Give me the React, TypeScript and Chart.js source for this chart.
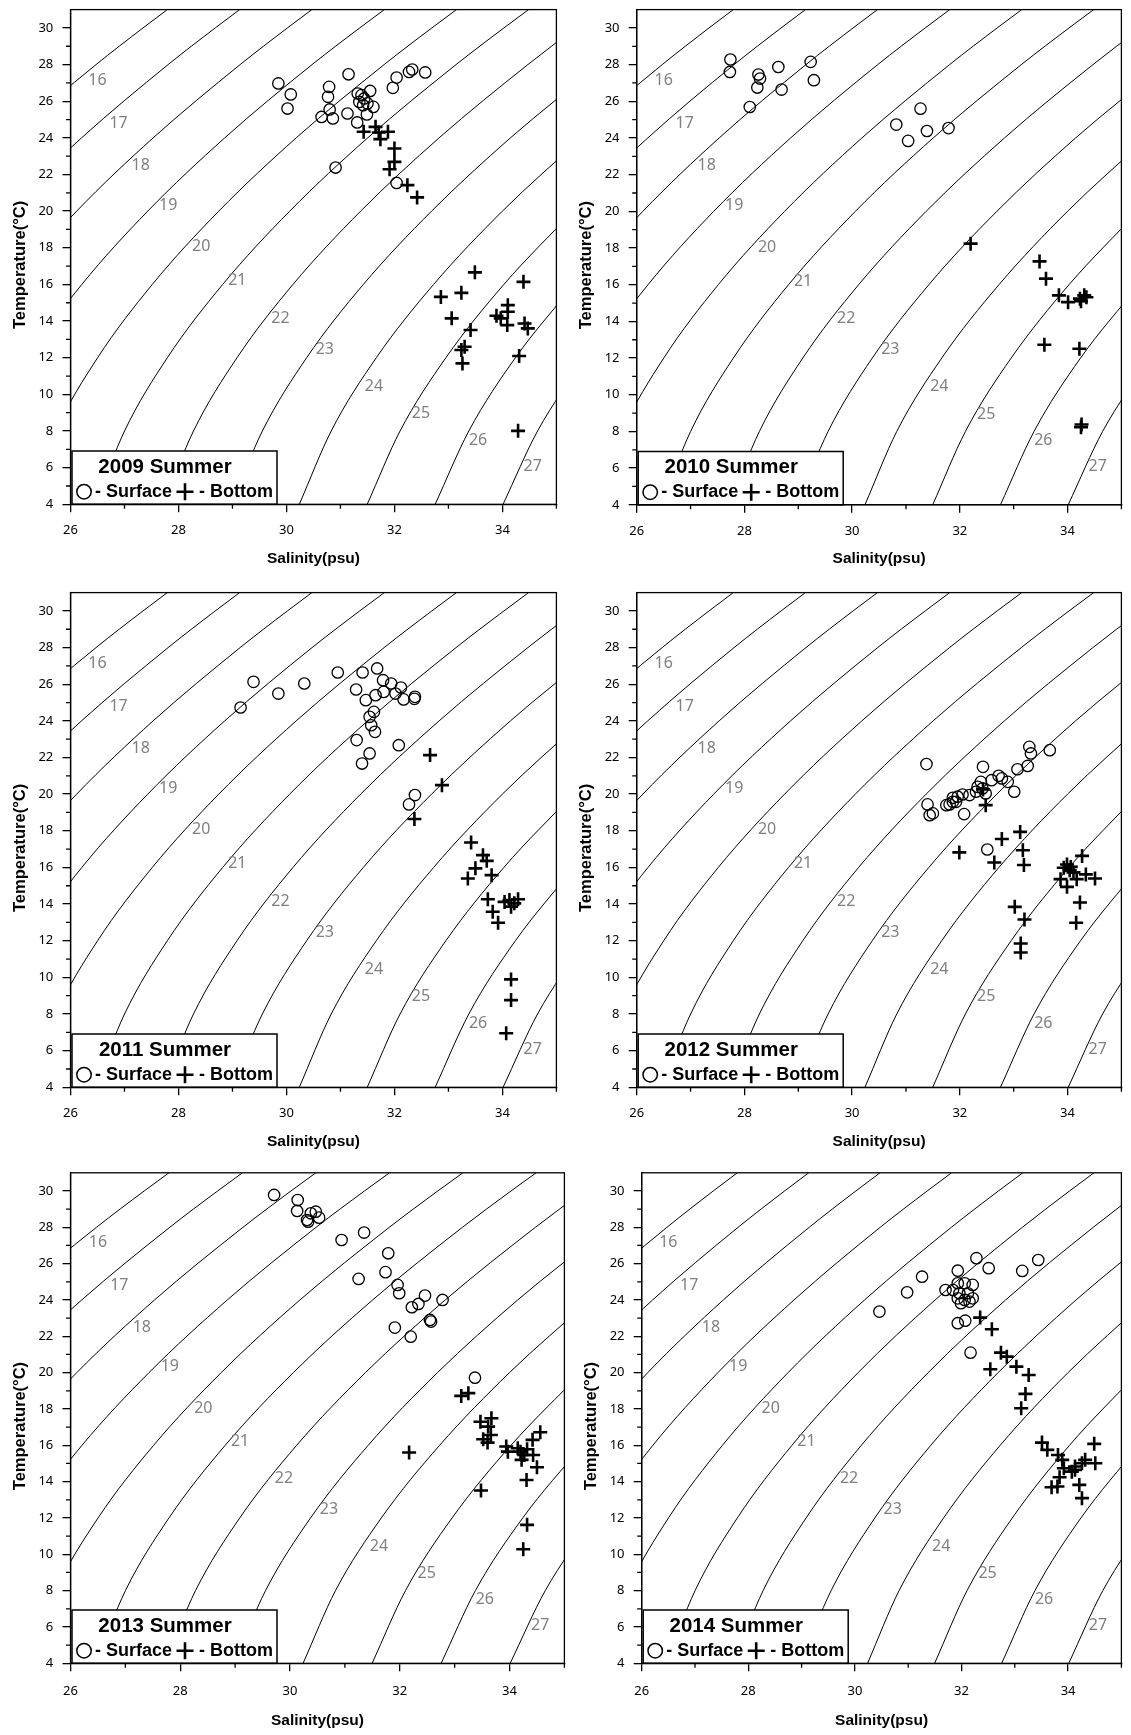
import React, { useEffect, useRef } from "react";
import { Chart, registerables } from "chart.js";
Chart.register(...registerables);

// ---------- axis ticks ----------
const X_TICKS = [26, 28, 30, 32, 34];
const X_MINOR = [27, 29, 31, 33, 35];
const Y_TICKS = [4, 6, 8, 10, 12, 14, 16, 18, 20, 22, 24, 26, 28, 30];
const Y_MINOR = [5, 7, 9, 11, 13, 15, 17, 19, 21, 23, 25, 27, 29];

// ---------- density (sigma-t) isolines: salinity read at these temperatures ----------
const ISO_TEMPS = [4, 8, 12, 16, 20, 24, 28, 30, 31];
const ISO_16 = [null, null, null, 22.29, 23.48, 24.877, 26.474, 27.343, 27.794];
const ISO_17 = [null, null, 22.61, 23.598, 24.797, 26.205, 27.809, 28.681, 29.133];
const ISO_18 = [null, 23.163, 23.918, 24.903, 26.114, 27.531, 29.143, 30.018, 30.471];
const ISO_19 = [23.93, 24.445, 25.21, 26.21, 27.43, 28.857, 30.475, 31.357, 31.813];
const ISO_20 = [25.193, 25.724, 26.502, 27.515, 28.746, 30.181, 31.81, 32.693, 33.15];
const ISO_21 = [26.455, 27.001, 27.794, 28.819, 30.06, 31.505, 33.142, 34.028, 34.485];
const ISO_22 = [27.717, 28.278, 29.084, 30.121, 31.374, 32.828, 34.472, 35.36, 35.82];
const ISO_23 = [28.978, 29.554, 30.374, 31.424, 32.687, 34.149, 35.8, null, null];
const ISO_24 = [30.238, 30.829, 31.664, 32.726, 33.999, 35.469, null, null, null];
const ISO_25 = [31.496, 32.104, 32.953, 34.027, 35.31, null, null, null, null];
const ISO_26 = [32.754, 33.378, 34.241, 35.327, null, null, null, null, null];
const ISO_27 = [34.012, 34.651, 35.528, null, null, null, null, null, null];
const ISOLINES = [ISO_16, ISO_17, ISO_18, ISO_19, ISO_20, ISO_21, ISO_22, ISO_23, ISO_24, ISO_25, ISO_26, ISO_27];

// isoline labels: text, salinity, temperature
const ISO_LABEL_TEXT = ["16", "17", "18", "19", "20", "21", "22", "23", "24", "25", "26", "27"];
const ISO_LABEL_S = [26.5, 26.89, 27.3, 27.81, 28.42, 29.09, 29.89, 30.71, 31.62, 32.49, 33.55, 34.56];
const ISO_LABEL_T = [27.15, 24.78, 22.5, 20.33, 18.05, 16.2, 14.15, 12.45, 10.43, 8.94, 7.5, 6.09];

// ---------- observations [salinity, temperature] ----------
const SURFACE_2009 = [
  [29.85, 26.97], [30.08, 26.37], [30.02, 25.6], [30.79, 26.78], [30.77, 26.24], [31.15, 27.47],
  [30.8, 25.55], [30.65, 25.14], [30.86, 25.06], [31.13, 25.33], [31.31, 24.84], [31.32, 26.42],
  [31.55, 26.56], [31.35, 25.96], [31.44, 26.15], [31.42, 25.78], [31.5, 25.88], [31.39, 26.33],
  [31.61, 25.69], [31.49, 25.28], [32.04, 27.29], [31.97, 26.73], [32.27, 27.6], [32.33, 27.73],
  [32.57, 27.57], [30.91, 22.38], [32.04, 21.54],
];
const BOTTOM_2009 = [
  [31.43, 24.33], [31.65, 24.6], [31.71, 24.29], [31.74, 23.93], [31.88, 24.33], [32.0, 23.42],
  [32.0, 22.69], [31.91, 22.29], [32.24, 21.42], [32.42, 20.75], [33.49, 16.66], [32.86, 15.32],
  [33.24, 15.54], [33.06, 14.15], [33.41, 13.51], [33.3, 12.6], [33.24, 12.42], [33.26, 11.69],
  [34.39, 16.14], [34.1, 14.87], [34.1, 14.51], [33.89, 14.29], [33.97, 14.15], [34.09, 13.78],
  [34.41, 13.87], [34.47, 13.6], [34.31, 12.09], [34.29, 8.01],
];
const SURFACE_2010 = [
  [27.74, 28.28], [27.73, 27.6], [28.26, 27.46], [28.29, 27.24], [28.24, 26.75], [28.1, 25.69],
  [28.63, 27.87], [28.69, 26.64], [29.23, 28.15], [29.29, 27.15], [31.27, 25.6], [30.82, 24.73],
  [31.39, 24.38], [31.04, 23.84], [31.79, 24.54],
];
const BOTTOM_2010 = [
  [32.2, 18.24], [33.48, 17.27], [33.6, 16.33], [33.84, 15.42], [34.01, 15.05], [34.23, 15.24],
  [34.31, 15.42], [34.35, 15.32], [34.25, 15.1], [33.57, 12.73], [34.22, 12.51], [34.26, 8.38],
  [34.25, 8.23],
];
const SURFACE_2011 = [
  [29.15, 24.73], [29.39, 26.13], [29.85, 25.49], [30.33, 26.04], [30.95, 26.64], [31.41, 26.64],
  [31.68, 26.86], [31.29, 25.71], [31.47, 25.13], [31.65, 25.4], [31.79, 26.22], [31.94, 26.04],
  [31.8, 25.58], [32.02, 25.49], [32.12, 25.82], [32.17, 25.17], [32.38, 25.31], [32.37, 25.2],
  [31.62, 24.49], [31.54, 24.22], [31.57, 23.76], [31.64, 23.4], [31.3, 22.95], [31.54, 22.22],
  [31.4, 21.67], [32.08, 22.67], [32.38, 19.95], [32.27, 19.44],
];
const BOTTOM_2011 = [
  [32.66, 22.13], [32.88, 20.49], [32.37, 18.64], [33.42, 17.36], [33.64, 16.67], [33.71, 16.36],
  [33.5, 15.95], [33.8, 15.58], [33.36, 15.4], [33.73, 14.26], [33.82, 13.58], [33.92, 12.98],
  [34.04, 14.12], [34.13, 14.22], [34.22, 14.04], [34.29, 14.26], [34.16, 13.86], [34.16, 9.89],
  [34.16, 8.76], [34.07, 6.95],
];
const SURFACE_2012 = [
  [31.38, 21.64], [32.43, 21.49], [33.29, 22.58], [33.32, 22.22], [33.67, 22.4], [33.26, 21.54],
  [33.07, 21.36], [32.72, 21.0], [32.78, 20.86], [32.59, 20.76], [32.89, 20.67], [33.01, 20.13],
  [32.42, 20.31], [32.48, 20.04], [32.3, 20.13], [32.05, 19.98], [31.87, 19.8], [31.81, 19.44],
  [31.4, 19.44], [31.44, 18.85], [31.5, 18.95], [32.08, 18.91], [31.93, 19.58], [32.51, 16.98],
  [31.75, 19.4], [31.87, 19.58], [31.96, 19.86], [32.18, 19.95], [32.33, 20.4], [32.39, 20.67],
];
const BOTTOM_2012 = [
  [32.48, 19.4], [32.43, 20.26], [31.99, 16.82], [32.78, 17.55], [32.64, 16.27], [33.12, 17.94],
  [33.17, 16.94], [33.19, 16.13], [33.02, 13.85], [33.2, 13.16], [33.13, 11.85], [33.13, 11.36],
  [34.27, 16.63], [33.99, 16.16], [34.06, 16.03], [34.04, 15.85], [33.93, 15.98], [34.11, 15.73],
  [34.34, 15.62], [34.51, 15.4], [33.87, 15.36], [34.17, 15.36], [33.99, 14.94], [34.23, 14.09],
  [34.16, 12.98],
];
const SURFACE_2013 = [
  [29.71, 29.78], [30.14, 29.5], [30.13, 28.9], [30.38, 28.77], [30.47, 28.86], [30.53, 28.53],
  [30.33, 28.31], [30.31, 28.4], [30.94, 27.3], [31.35, 27.71], [31.79, 26.57], [31.74, 25.53],
  [31.25, 25.16], [31.96, 24.83], [31.99, 24.37], [32.46, 24.24], [32.34, 23.78], [32.22, 23.6],
  [32.78, 24.0], [32.55, 22.9], [32.57, 22.81], [31.91, 22.48], [32.2, 21.98], [33.37, 19.72],
];
const BOTTOM_2013 = [
  [33.12, 18.72], [33.25, 18.87], [32.17, 15.6], [33.47, 17.3], [33.67, 17.49], [33.61, 17.03],
  [33.66, 16.57], [33.52, 16.33], [33.6, 16.15], [33.94, 15.93], [33.97, 15.65], [34.15, 15.84],
  [34.2, 15.65], [34.27, 15.47], [34.32, 15.78], [34.43, 15.47], [34.22, 15.2], [34.42, 16.3],
  [34.56, 16.72], [34.5, 14.79], [34.31, 14.09], [33.48, 13.51], [34.32, 11.62], [34.25, 10.28],
];
const SURFACE_2014 = [
  [30.46, 23.36], [30.98, 24.42], [31.26, 25.28], [31.93, 25.61], [32.28, 26.3], [32.51, 25.75],
  [33.14, 25.6], [33.44, 26.2], [31.7, 24.55], [31.93, 24.92], [32.06, 24.92], [32.21, 24.83],
  [31.84, 24.55], [31.96, 24.37], [32.12, 24.37], [32.21, 24.09], [31.93, 24.09], [32.06, 24.0],
  [31.99, 23.82], [32.15, 23.91], [31.93, 22.72], [32.07, 22.86], [32.17, 21.1],
];
const BOTTOM_2014 = [
  [32.35, 23.03], [32.57, 22.39], [32.54, 20.19], [32.74, 21.1], [32.85, 20.88], [33.03, 20.33],
  [33.26, 19.87], [33.2, 18.83], [33.12, 18.04], [33.51, 16.15], [33.61, 15.75], [33.81, 15.47],
  [33.89, 15.2], [34.13, 14.83], [34.26, 15.01], [34.32, 15.2], [34.49, 16.08], [34.51, 15.01],
  [33.92, 14.74], [33.84, 14.24], [33.8, 13.73], [33.69, 13.69], [34.13, 14.65], [34.21, 13.82],
  [34.26, 13.09], [34.07, 14.55],
];

const TITLES = ["2009 Summer", "2010 Summer", "2011 Summer", "2012 Summer", "2013 Summer", "2014 Summer"];
const SURFACES = [SURFACE_2009, SURFACE_2010, SURFACE_2011, SURFACE_2012, SURFACE_2013, SURFACE_2014];
const BOTTOMS = [BOTTOM_2009, BOTTOM_2010, BOTTOM_2011, BOTTOM_2012, BOTTOM_2013, BOTTOM_2014];

// ---------- layout (page pixels) ----------
const LAYOUT = [
  { left: 0, top: 0, w: 566, h: 580, L: 70.5, R: 565.7, T: 9.4, B: 504.3, titleGap: 54, tickGap: 26.4 },
  { left: 566, top: 0, w: 565, h: 580, L: 636.7, R: 1130.5, T: 9.4, B: 504.8, titleGap: 54, tickGap: 26.4 },
  { left: 0, top: 583, w: 566, h: 580, L: 70.5, R: 565.7, T: 592.4, B: 1087.3, titleGap: 54, tickGap: 26.4 },
  { left: 566, top: 583, w: 565, h: 580, L: 636.7, R: 1130.5, T: 592.4, B: 1087.3, titleGap: 54, tickGap: 26.4 },
  { left: 0, top: 1163, w: 574, h: 572, L: 70.5, R: 572.7, T: 1172.8, B: 1663.3, titleGap: 57.7, tickGap: 28.4 },
  { left: 571, top: 1163, w: 560, h: 572, L: 641.7, R: 1130.5, T: 1172.8, B: 1663.3, titleGap: 57.7, tickGap: 28.4 },
];

const YW = 59.5;
const TICK_FONT = { family: "'Noto Sans', 'DejaVu Sans', sans-serif", size: 13 };
const TITLE_FONT = { family: "'Liberation Sans', Arial, sans-serif", size: 15.5, weight: "bold" as const };

const decorPlugin = (title: string) => ({
  id: "decor",
  afterDatasetsDraw(chart: any) {
    const { ctx, chartArea: a, scales } = chart;
    const xs = scales.x;
    const ys = scales.y;
    ctx.save();
    // isoline labels
    ctx.font = "16px 'Noto Sans', 'DejaVu Sans', sans-serif";
    ctx.fillStyle = "#808080";
    ctx.textAlign = "center";
    ctx.textBaseline = "middle";
    ISO_LABEL_TEXT.forEach((t, i) => {
      ctx.fillText(t, xs.getPixelForValue(ISO_LABEL_S[i]), ys.getPixelForValue(ISO_LABEL_T[i]));
    });
    // legend box
    const L = a.left;
    const B = a.bottom;
    const bx = L + 1.5;
    const by = B - 53.3;
    const bw = 205;
    ctx.fillStyle = "#fff";
    ctx.fillRect(bx, by, bw, B - by);
    ctx.strokeStyle = "#000";
    ctx.lineWidth = 1.5;
    ctx.strokeRect(bx, by, bw, B - by);
    ctx.fillStyle = "#000";
    ctx.font = "bold 20.5px 'Liberation Sans', Arial, sans-serif";
    ctx.textAlign = "center";
    ctx.textBaseline = "middle";
    ctx.fillText(title, L + 94.5, B - 37);
    const ly = B - 12.6;
    ctx.beginPath();
    ctx.lineWidth = 1.5;
    ctx.arc(L + 13.5, ly, 7.2, 0, Math.PI * 2);
    ctx.stroke();
    ctx.font = "bold 18px 'Liberation Sans', Arial, sans-serif";
    ctx.textAlign = "left";
    ctx.fillText("- Surface", L + 24.5, ly);
    ctx.beginPath();
    ctx.lineWidth = 2.6;
    ctx.moveTo(L + 106, ly);
    ctx.lineTo(L + 123, ly);
    ctx.moveTo(L + 114.5, ly - 8.5);
    ctx.lineTo(L + 114.5, ly + 8.5);
    ctx.stroke();
    ctx.fillText("- Bottom", L + 128.5, ly);
    ctx.restore();
  },
  afterDraw(chart: any) {
    const { ctx, chartArea: a, scales } = chart;
    ctx.save();
    ctx.strokeStyle = "#000";
    ctx.lineWidth = 1.3;
    ctx.strokeRect(a.left, a.top, a.right - a.left, a.bottom - a.top);
    ctx.beginPath();
    X_MINOR.forEach((v) => {
      const px = scales.x.getPixelForValue(v);
      ctx.moveTo(px, a.bottom);
      ctx.lineTo(px, a.bottom + 4.5);
    });
    Y_MINOR.forEach((v) => {
      const py = scales.y.getPixelForValue(v);
      ctx.moveTo(a.left, py);
      ctx.lineTo(a.left - 4.5, py);
    });
    ctx.stroke();
    // y axis title
    ctx.translate(a.left - 50.5, (a.top + a.bottom) / 2 + 8);
    ctx.rotate(-Math.PI / 2);
    ctx.fillStyle = "#000";
    ctx.font = "bold 16.5px 'Liberation Sans', Arial, sans-serif";
    ctx.textAlign = "center";
    ctx.textBaseline = "middle";
    ctx.fillText("Temperature(°C)", 0, 0);
    ctx.restore();
  },
});

function Panel({ index }: { index: number }) {
  const ref = useRef<HTMLCanvasElement>(null);
  const lay = LAYOUT[index];
  useEffect(() => {
    const XH = lay.titleGap + 9.3;
    const isoSets = ISOLINES.map((arr) => ({
      type: "scatter" as const,
      data: ISO_TEMPS.map((t, i) => ({ x: arr[i], y: t })).filter((p) => p.x !== null),
      showLine: true,
      pointRadius: 0,
      borderColor: "#000",
      borderWidth: 1,
      cubicInterpolationMode: "monotone" as const,
    }));
    const chart = new Chart(ref.current as HTMLCanvasElement, {
      type: "scatter",
      data: {
        datasets: [
          {
            data: SURFACES[index].map((p) => ({ x: p[0], y: p[1] })),
            pointStyle: "circle",
            pointRadius: 5.7,
            pointBorderWidth: 1.3,
            pointBorderColor: "#000",
            pointBackgroundColor: "rgba(0,0,0,0)",
          },
          {
            data: BOTTOMS[index].map((p) => ({ x: p[0], y: p[1] })),
            pointStyle: "cross",
            pointRadius: 7,
            pointBorderWidth: 2.6,
            pointBorderColor: "#000",
            pointBackgroundColor: "#000",
          },
          ...isoSets,
        ] as any,
      },
      options: {
        responsive: false,
        maintainAspectRatio: false,
        animation: false,
        devicePixelRatio: 1,
        events: [],
        layout: {
          padding: {
            left: lay.L - lay.left - YW,
            top: lay.T - lay.top,
            right: lay.left + lay.w - lay.R,
            bottom: lay.top + lay.h - lay.B - XH,
          },
        },
        plugins: { legend: { display: false }, tooltip: { enabled: false } },
        scales: {
          x: {
            type: "linear",
            position: "bottom",
            min: 26,
            max: 35,
            afterFit: (s: any) => {
              s.height = XH;
              s.paddingLeft = 0;
              s.paddingRight = 0;
            },
            afterBuildTicks: (s: any) => {
              s.ticks = X_TICKS.map((v) => ({ value: v }));
            },
            ticks: { font: TICK_FONT, color: "#000", padding: lay.tickGap - 8 - 7.8, maxRotation: 0, autoSkip: false },
            grid: { drawOnChartArea: false, drawTicks: true, tickLength: 8, color: "#000", lineWidth: 1.3 },
            border: { display: true, color: "#000", width: 1.3 },
            title: { display: true, text: "Salinity(psu)", font: TITLE_FONT, color: "#000", padding: { top: 0, bottom: 0 } },
          },
          y: {
            type: "linear",
            position: "left",
            min: 4,
            max: 31,
            afterFit: (s: any) => {
              s.width = YW;
              s.paddingTop = 0;
              s.paddingBottom = 0;
            },
            afterBuildTicks: (s: any) => {
              s.ticks = Y_TICKS.map((v) => ({ value: v }));
            },
            ticks: { font: TICK_FONT, color: "#000", padding: 9.2, autoSkip: false },
            grid: { drawOnChartArea: false, drawTicks: true, tickLength: 8, color: "#000", lineWidth: 1.3 },
            border: { display: true, color: "#000", width: 1.3 },
            title: { display: false },
          },
        },
      } as any,
      plugins: [decorPlugin(TITLES[index])],
    });
    return () => chart.destroy();
  }, [index]);
  return (
    <canvas
      ref={ref}
      width={lay.w}
      height={lay.h}
      style={{ position: "absolute", left: lay.left, top: lay.top, width: lay.w, height: lay.h }}
    />
  );
}

export default function App() {
  return (
    <div style={{ position: "absolute", left: 0, top: 0, width: 1131, height: 1735, background: "#fff", overflow: "hidden" }}>
      {TITLES.map((_, i) => (
        <Panel key={i} index={i} />
      ))}
    </div>
  );
}
